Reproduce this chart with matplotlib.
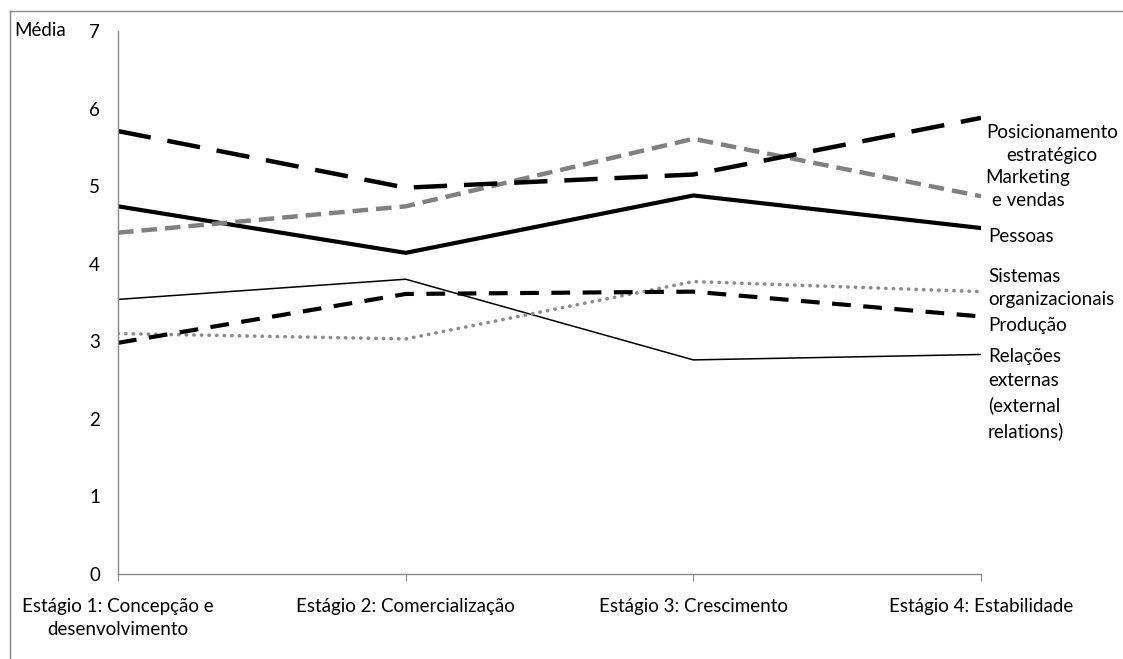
import matplotlib
matplotlib.use("Agg")
import matplotlib.pyplot as plt
from matplotlib.lines import Line2D

plt.rcParams['font.family'] = ['Lato', 'DejaVu Sans']

estagios = ['Estágio 1: Concepção e\ndesenvolvimento', 'Estágio 2: Comercialização',
            'Estágio 3: Crescimento', 'Estágio 4: Estabilidade']

posicionamento = [5.71, 4.98, 5.15, 5.88]
marketing = [4.40, 4.74, 5.61, 4.87]
pessoas = [4.74, 4.14, 4.88, 4.46]
relacoes = [3.54, 3.80, 2.76, 2.83]
producao = [2.98, 3.61, 3.64, 3.32]
sistemas = [3.10, 3.03, 3.77, 3.64]

W, H = 1123, 659
fig = plt.figure(figsize=(W / 100, H / 100), dpi=100)
ax = fig.add_axes([118 / W, 1 - 574 / H, (981 - 118) / W, (574 - 31) / H])

x = range(len(estagios))
ax.plot(x, relacoes, color='black', lw=1.1)
ax.plot(x, sistemas, color='#8c8c8c', lw=2.6, linestyle=(0, (0.1, 2.0)), dash_capstyle='round')
ax.plot(x, producao, color='black', lw=3.0, linestyle=(0, (4.5, 3.0)))
ax.plot(x, pessoas, color='black', lw=3.0)
ax.plot(x, marketing, color='#808080', lw=3.2, linestyle=(0, (3.5, 1.8)))
ax.plot(x, posicionamento, color='black', lw=3.2, linestyle=(0, (7.5, 3.8)))

ax.set_xlim(0, 3)
ax.set_ylim(0, 7)
ax.set_yticks(range(8))
ax.set_xticks(list(x))
ax.set_xticklabels(estagios, fontsize=13.5, linespacing=1.45)
ax.tick_params(axis='y', length=0, pad=13, labelsize=13.5)
ax.tick_params(axis='x', length=5, color='#888888', pad=12)
for side in ['top', 'right']:
    ax.spines[side].set_visible(False)
for side in ['left', 'bottom']:
    ax.spines[side].set_color('#888888')
    ax.spines[side].set_linewidth(1.0)

def px(xp, yp):
    return xp / W, 1 - yp / H

fig.text(*px(14, 30), 'Média', fontsize=13.5, va='center')

labels = [
    (1052, 144, 'Posicionamento\nestratégico', 'center'),
    (1028, 189, 'Marketing\ne vendas', 'center'),
    (988, 236, 'Pessoas', 'left'),
    (988, 288, 'Sistemas\norganizacionais', 'left'),
    (988, 325, 'Produção', 'left'),
    (988, 394, 'Relações\nexternas\n(external\nrelations)', 'left'),
]
for xp, yp, txt, ha in labels:
    fig.text(*px(xp, yp), txt, fontsize=13.5, ha=ha, va='center',
             multialignment=ha, linespacing=1.5)

# outer frame of the chart area
fig.add_artist(Line2D([10 / W, 10 / W], [0, 1 - 11 / H], transform=fig.transFigure,
                      color='#888888', lw=1.0))
fig.add_artist(Line2D([10 / W, 1], [1 - 11 / H, 1 - 11 / H], transform=fig.transFigure,
                      color='#888888', lw=1.0))

fig.savefig('out.png', dpi=100)
